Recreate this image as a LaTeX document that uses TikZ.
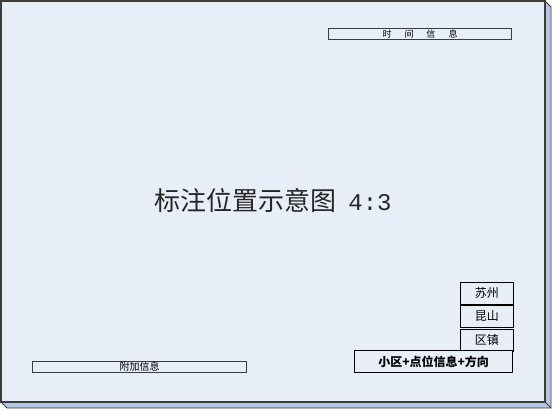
\documentclass[tikz,border=0pt]{standalone}
\usepackage{fontspec}
\newfontfamily\cjk{Noto Sans CJK SC}
\newfontfamily\digits{Liberation Mono}
\usetikzlibrary{positioning}
\definecolor{facecol}{HTML}{E8EEF7}
\definecolor{bevelcol}{HTML}{B3C5E3}
\definecolor{edgecol}{HTML}{3C3C3C}
\begin{document}
\begin{tikzpicture}[x=1pt,y=-1pt]
\tikzstyle{every node}+=[inner sep=0pt, font=\cjk]
\tikzstyle{infobox}=[draw=edgecol, line width=1pt, fill=facecol, anchor=north west]
\tikzstyle{placebox}=[draw=black, line width=0.8pt, fill=facecol, minimum width=53pt, minimum height=22pt, font=\cjk\fontsize{12}{12}\selectfont]
\useasboundingbox (0,0) rectangle (556,410);
% sheet with bevel
\fill [bevelcol] (545,1) -- (551,7) -- (551,408) -- (7,408) -- (1,402) -- (545,402) -- cycle;
\draw [edgecol, line width=0.8pt] (545,1) -- (551,7) -- (551,408) -- (7,408) -- (1,402);
\draw [edgecol, line width=0.8pt] (545,402) -- (551,408);
\draw [edgecol, line width=1.2pt, fill=facecol] (1,1) rectangle (545,402);
% title
\node [text=black!85] (title) at (273,200) {\fontsize{26}{26}\selectfont 标注位置示意图\hspace{12pt}{\digits\fontsize{24}{24}\selectfont 4:3}};
% info boxes
\node [infobox, minimum width=183pt, minimum height=11pt, font=\cjk\fontsize{9}{9}\selectfont] (time) at (328,28) {时\hspace{13pt}间\hspace{13pt}信\hspace{13pt}息};
\node [infobox, minimum width=214pt, minimum height=11pt, font=\cjk\fontsize{10}{10}\selectfont] (extra) at (32,361) {附加信息};
% place stack
\node [placebox, anchor=north west] (city) at (460,282) {苏州};
\node [placebox, below=0pt of city] (county) {昆山};
\node [placebox, below=1pt of county] (town) {区镇};
\node [placebox, anchor=north east, minimum width=158pt, font=\cjk\bfseries\fontsize{12}{12}\selectfont] (spot) at (513,350) {小区+点位信息+方向};
\end{tikzpicture}
\end{document}
